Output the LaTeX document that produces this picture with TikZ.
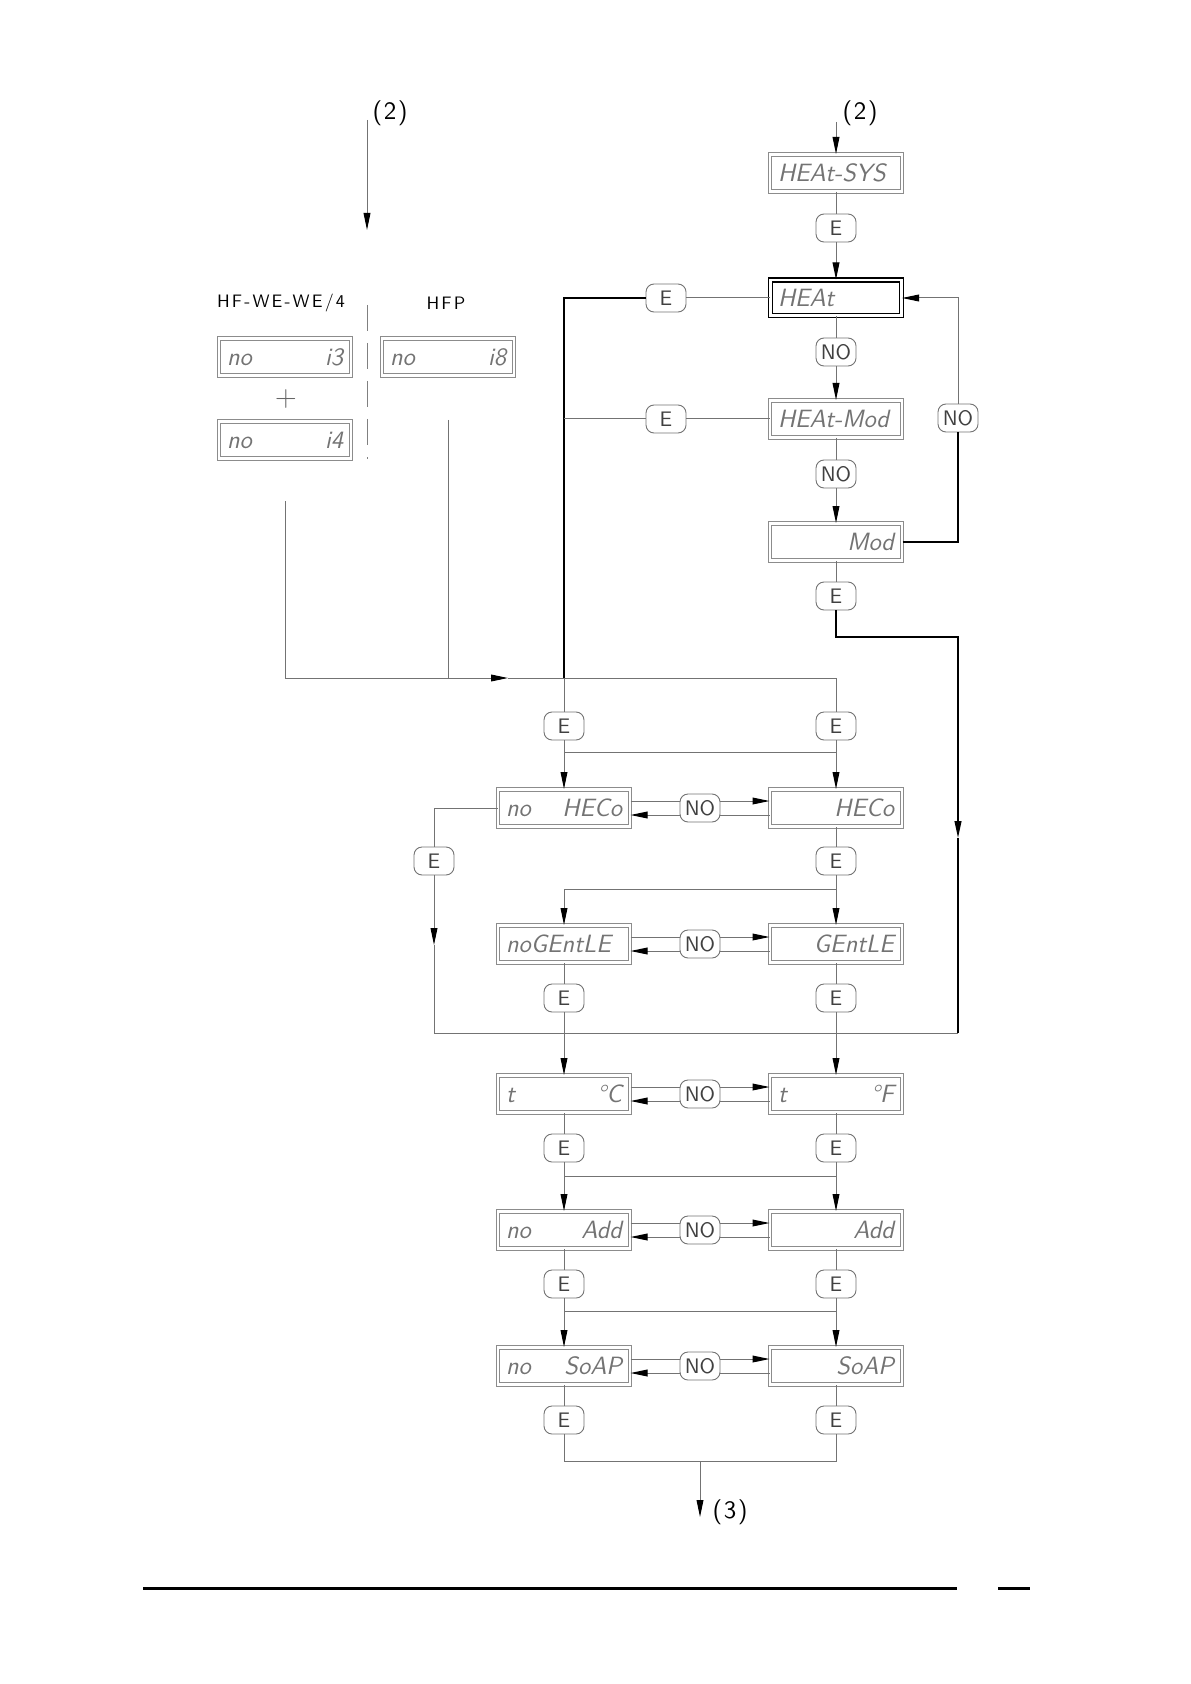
\documentclass[tikz,border=0pt]{standalone}
\usepackage{fontspec}
\usepackage{tikz}
\usetikzlibrary{arrows.meta}
\usetikzlibrary{calc}

\newfontfamily\spacedsans{lmsans10-regular.otf}[LetterSpace=12]
\newfontfamily\marksans{lmsans10-regular.otf}[LetterSpace=6]
\newcommand{\lcdfont}{\sffamily\itshape\fontsize{12.5}{13}\selectfont}
\newcommand{\keyfont}{\sffamily\fontsize{10.5}{11}\selectfont}
\newcommand{\headfont}{\spacedsans\fontsize{9}{10}\selectfont}
\newcommand{\markfont}{\marksans\fontsize{12.5}{13}\selectfont}

\tikzset{
  lcd/.style={draw=black!45, line width=0.5pt, double, double distance=1.1pt,
    minimum width=66pt, minimum height=18.5pt, inner sep=0pt,
    text width=58pt, align=left, font=\lcdfont, text=black!55},
  lcdmain/.style={lcd, draw=black, line width=0.7pt, double distance=1.3pt,
    minimum width=65.3pt, minimum height=17.8pt},
  key/.style={draw=black!55, line width=0.45pt, rounded corners=4pt, fill=white,
    minimum width=20pt, minimum height=14pt, inner sep=1pt,
    font=\keyfont, text=black!75},
  wire/.style={draw=black!55, line width=0.5pt},
  bold wire/.style={draw=black, line width=0.8pt},
  tip/.style={-{Triangle[length=8.5pt,width=3.4pt,color=black]}},
  sepline/.style={draw=black!50, line width=0.5pt, dash pattern=on 13pt off 6pt},
}

\begin{document}
\begin{tikzpicture}[x=0.5pt,y=-0.5pt]
			
			\useasboundingbox (0,0) rectangle (1190,1684);
			
			% Entry marks
			\node[font=\markfont] (markA) at (390,113) {(2)};
			\node[font=\markfont] (markB) at (860,113) {(2)};
			\node[font=\markfont] (markC) at (730,1512) {(3)};
			\coordinate (inA) at (367,120);
			\coordinate (inAend) at (367,230);
			\coordinate (inB) at (836,122);
			
			% Left part: inputs
			\node[font=\headfont] (hdrA) at (281,303) {HF-WE-WE/4};
			\node[font=\headfont] (hdrB) at (446,303) {HFP};
			\node[lcd] (in3) at (285,357) {no\hfill i3};
			\node[lcd] (in8) at (448,357) {no\hfill i8};
			\node[text=black!60,font=\fontsize{15}{15}\selectfont] (plus) at (286,399) {+};
			\node[lcd] (in4) at (285,440) {no\hfill i4};
			\coordinate (sepTop) at (367,305);
			\coordinate (sepBot) at (367,459);
			
			% Right part: heating
			\node[lcd] (sys) at (836,173) {HEAt-SYS};
			\node[key] (eSys) at (836,228) {E};
			\node[lcdmain] (heat) at (836,298) {HEAt};
			\node[key] (noHeat) at (836,352) {NO};
			\node[lcd] (heatMod) at (836,419) {HEAt-Mod};
			\node[key] (noMod) at (836,474) {NO};
			\node[lcd] (mod) at (836,542) {\hfill Mod};
			\node[key] (eMod) at (836,596) {E};
			\node[key] (eHeat) at (666,298) {E};
			\node[key] (eHeatMod) at (666,419) {E};
			\node[key] (noBack) at (958,418) {NO};
			
			% Lower part: left and right columns
			\node[key] (eL1) at (564,726) {E};
			\node[key] (eR1) at (836,726) {E};
			\node[lcd] (nHeco) at (564,808) {no\hfill HECo};
			\node[lcd] (heco) at (836,808) {\hfill HECo};
			\node[key] (eLeft) at (434,861) {E};
			\node[key] (eR2) at (836,861) {E};
			\node[lcd] (nGentle) at (564,944) {noGEntLE};
			\node[lcd] (gentle) at (836,944) {\hfill GEntLE};
			\node[key] (eL3) at (564,998) {E};
			\node[key] (eR3) at (836,998) {E};
			\node[lcd] (tC) at (564,1094) {t\hfill °C};
			\node[lcd] (tF) at (836,1094) {t\hfill °F};
			\node[key] (eL4) at (564,1148) {E};
			\node[key] (eR4) at (836,1148) {E};
			\node[lcd] (nAdd) at (564,1230) {no\hfill Add};
			\node[lcd] (add) at (836,1230) {\hfill Add};
			\node[key] (eL5) at (564,1284) {E};
			\node[key] (eR5) at (836,1284) {E};
			\node[lcd] (nSoap) at (564,1366) {no\hfill SoAP};
			\node[lcd] (soap) at (836,1366) {\hfill SoAP};
			\node[key] (eL6) at (564,1420) {E};
			\node[key] (eR6) at (836,1420) {E};
			
			% Junction points
			\coordinate (hfTop) at (285,501);
			\coordinate (hfEnd) at (285,678);
			\coordinate (hfpTop) at (448,420);
			\coordinate (hfpEnd) at (448,678);
			\coordinate (midArr) at (508,678);
			\coordinate (tl) at (564,298);
			\coordinate (tl2) at (564,419);
			\coordinate (j1) at (564,678);
			\coordinate (j2) at (836,678);
			\coordinate (x1a) at (564,752);
			\coordinate (x1b) at (836,752);
			\coordinate (x2a) at (564,889);
			\coordinate (x2b) at (836,889);
			\coordinate (x4a) at (564,1176);
			\coordinate (x4b) at (836,1176);
			\coordinate (x5a) at (564,1311);
			\coordinate (x5b) at (836,1311);
			\coordinate (bot) at (700,1461);
			\coordinate (outEnd) at (700,1517);
			\coordinate (rTurn) at (958,637);
			\coordinate (rMid) at (958,838);
			\coordinate (rEnd) at (958,1033);
			\coordinate (lMid) at (434,945);
			\coordinate (lEnd) at (434,1033);
			
			% Entry arrows
			\draw[wire,tip] (inA) -- (inAend);
			\draw[wire,tip] (inB) -- (sys);
			\draw[sepline] (sepTop) -- (sepBot);
			
			% Heating chain
			\draw[wire] (sys) -- (eSys);
			\draw[wire,tip] (eSys) -- (heat);
			\draw[wire] (heat) -- (noHeat);
			\draw[wire,tip] (noHeat) -- (heatMod);
			\draw[wire] (heatMod) -- (noMod);
			\draw[wire,tip] (noMod) -- (mod);
			\draw[wire] (mod) -- (eMod);
			\draw[bold wire] (mod.east) -| (noBack);
			\draw[wire,tip] (noBack) |- (heat.east);
			\draw[wire] (heat) -- (eHeat);
			\draw[bold wire] (eHeat) -- (tl) -- (j1);
			\draw[wire] (heatMod) -- (eHeatMod);
			\draw[wire] (eHeatMod) -- (tl2);
			\draw[bold wire,tip] (eMod) |- (rTurn) -- (rMid);
			\draw[bold wire] (rMid) -- (rEnd);
			
			% Inputs to the columns
			\draw[wire] (hfTop) -- (hfEnd);
			\draw[wire] (hfpTop) -- (hfpEnd);
			\draw[wire,tip] (hfEnd) -- (midArr);
			\draw[wire] (midArr) -- (j2);
			\draw[wire] (j1) -- (eL1);
			\draw[wire] (j2) -- (eR1);
			\draw[wire,tip] (eL1) -- (nHeco);
			\draw[wire,tip] (eR1) -- (heco);
			\draw[wire] (x1a) -- (x1b);
			
			% Columns
			\draw[wire] (nHeco.west) -| (eLeft);
			\draw[wire,tip] (eLeft) -- (lMid);
			\draw[wire] (lMid) -- (lEnd) -- (rEnd);
			\draw[wire] (heco) -- (eR2);
			\draw[wire,tip] (eR2) -- (gentle);
			\draw[wire,tip] (x2b) -- (x2a) -- (nGentle);
			\draw[wire] (nGentle) -- (eL3);
			\draw[wire] (gentle) -- (eR3);
			\draw[wire,tip] (eL3) -- (tC);
			\draw[wire,tip] (eR3) -- (tF);
			\draw[wire] (tC) -- (eL4);
			\draw[wire] (tF) -- (eR4);
			\draw[wire,tip] (eL4) -- (nAdd);
			\draw[wire,tip] (eR4) -- (add);
			\draw[wire] (x4a) -- (x4b);
			\draw[wire] (nAdd) -- (eL5);
			\draw[wire] (add) -- (eR5);
			\draw[wire,tip] (eL5) -- (nSoap);
			\draw[wire,tip] (eR5) -- (soap);
			\draw[wire] (x5a) -- (x5b);
			\draw[wire] (nSoap) -- (eL6);
			\draw[wire] (soap) -- (eR6);
			\draw[wire] (eL6) |- (bot) -| (eR6);
			\draw[wire,tip] (bot) -- (outEnd);
			
			% NO between left and right
			\draw[wire,tip] ([yshift=3.5pt]nHeco.east) -- ([yshift=3.5pt]heco.west);
			\draw[wire,tip] ([yshift=-3.5pt]heco.west) -- ([yshift=-3.5pt]nHeco.east);
			\draw[wire,tip] ([yshift=3.5pt]nGentle.east) -- ([yshift=3.5pt]gentle.west);
			\draw[wire,tip] ([yshift=-3.5pt]gentle.west) -- ([yshift=-3.5pt]nGentle.east);
			\draw[wire,tip] ([yshift=3.5pt]tC.east) -- ([yshift=3.5pt]tF.west);
			\draw[wire,tip] ([yshift=-3.5pt]tF.west) -- ([yshift=-3.5pt]tC.east);
			\draw[wire,tip] ([yshift=3.5pt]nAdd.east) -- ([yshift=3.5pt]add.west);
			\draw[wire,tip] ([yshift=-3.5pt]add.west) -- ([yshift=-3.5pt]nAdd.east);
			\draw[wire,tip] ([yshift=3.5pt]nSoap.east) -- ([yshift=3.5pt]soap.west);
			\draw[wire,tip] ([yshift=-3.5pt]soap.west) -- ([yshift=-3.5pt]nSoap.east);
			\node[key] (noHeco) at (700,808) {NO};
			\node[key] (noGentle) at (700,944) {NO};
			\node[key] (noTemp) at (700,1094) {NO};
			\node[key] (noAdd) at (700,1230) {NO};
			\node[key] (noSoap) at (700,1366) {NO};
			
			% Page rule
			\coordinate (ftA) at (143,1588);
			\coordinate (ftB) at (957,1588);
			\coordinate (ftC) at (998,1588);
			\coordinate (ftD) at (1030,1588);
			\draw[line width=1.5pt] (ftA) -- (ftB);
			\draw[line width=1.5pt] (ftC) -- (ftD);
			
		\end{tikzpicture}
\end{document}
